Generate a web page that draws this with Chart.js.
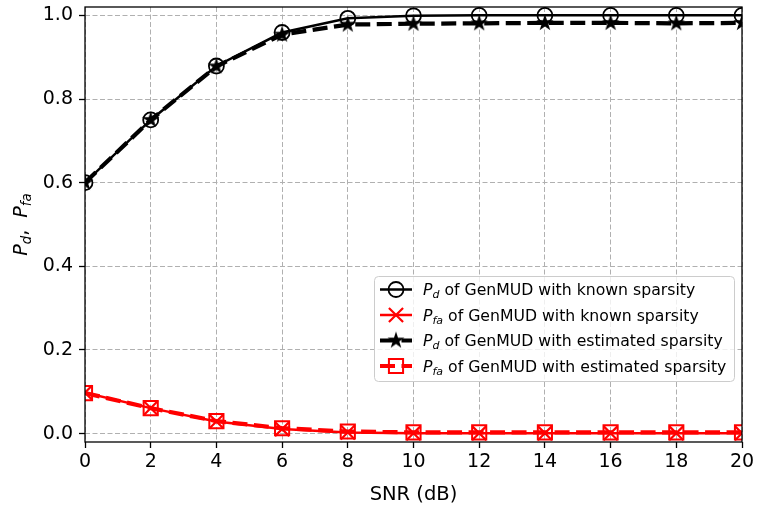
<!DOCTYPE html>
<html>
<head>
<meta charset="utf-8">
<script src="https://cdn.jsdelivr.net/npm/chart.js@4.4.1/dist/chart.umd.min.js"></script>
<style>
  html, body { margin: 0; padding: 0; background: #fff; }
  #wrap { width: 757px; height: 507px; }
</style>
</head>
<body>
<div id="wrap"><canvas id="grafico" width="757" height="507"></canvas></div>
<script>
// datos
const snr = [0, 2, 4, 6, 8, 10, 12, 14, 16, 18, 20];
const pdConocida = [0.600, 0.750, 0.879, 0.959, 0.993, 0.999, 1.000, 1.000, 1.000, 1.000, 1.000];
const pfaConocida = [0.098, 0.061, 0.029, 0.011, 0.003, 0.001, 0.001, 0.001, 0.001, 0.001, 0.001];
const pdEstimada = [0.600, 0.750, 0.878, 0.954, 0.978, 0.980, 0.981, 0.982, 0.982, 0.981, 0.982];
const pfaEstimada = [0.097, 0.061, 0.030, 0.013, 0.005, 0.003, 0.003, 0.003, 0.003, 0.003, 0.003];

const xTicks = [0, 2, 4, 6, 8, 10, 12, 14, 16, 18, 20];
const yTicks = [0.0, 0.2, 0.4, 0.6, 0.8, 1.0];

const etiquetas = [
    'P_d of GenMUD with known sparsity',
    'P_fa of GenMUD with known sparsity',
    'P_d of GenMUD with estimated sparsity',
    'P_fa of GenMUD with estimated sparsity'
];

const FUENTE = '"DejaVu Sans", sans-serif';

// estrella rellena como en matplotlib
function crearEstrella(rExt) {
    const c = document.createElement('canvas');
    const s = Math.ceil(rExt * 2 + 2);
    c.width = s; c.height = s;
    const g = c.getContext('2d');
    const rInt = rExt * 0.382;
    g.beginPath();
    for (let i = 0; i < 10; i++) {
        const r = i % 2 === 0 ? rExt : rInt;
        const a = -Math.PI / 2 + i * Math.PI / 5;
        const px = s / 2 + r * Math.cos(a), py = s / 2 + r * Math.sin(a);
        if (i === 0) g.moveTo(px, py); else g.lineTo(px, py);
    }
    g.closePath();
    g.fillStyle = '#000';
    g.fill();
    return c;
}
const estrella = crearEstrella(9);

function puntos(xs, ys) {
    return xs.map((x, i) => ({ x: x, y: ys[i] }));
}

// texto con P cursiva y subindice
function textoMath(ctx, x, y, sub, resto, size) {
    ctx.textBaseline = 'alphabetic';
    ctx.textAlign = 'left';
    ctx.font = 'italic ' + size + 'px ' + FUENTE;
    ctx.fillText('P', x, y);
    x += ctx.measureText('P').width;
    const ss = size * 0.7;
    ctx.font = 'italic ' + ss + 'px ' + FUENTE;
    ctx.fillText(sub, x, y + size * 0.22);
    x += ctx.measureText(sub).width;
    ctx.font = size + 'px ' + FUENTE;
    ctx.fillText(resto, x, y);
    x += ctx.measureText(resto).width;
    return x;
}

const pluginMarco = {
    id: 'marco',
    afterDatasetsDraw(chart) {
        const ctx = chart.ctx;
        const a = chart.chartArea;
        ctx.save();
        ctx.strokeStyle = '#000';
        ctx.lineWidth = 1.3;
        ctx.setLineDash([]);
        ctx.strokeRect(a.left, a.top, a.right - a.left, a.bottom - a.top);
        ctx.restore();

        // leyenda
        ctx.save();
        const lx = 374.5, ly = 276.5, lw = 360, lh = 105;
        ctx.beginPath();
        ctx.roundRect(lx, ly, lw, lh, 4);
        ctx.fillStyle = 'rgba(255,255,255,0.8)';
        ctx.fill();
        ctx.strokeStyle = '#cccccc';
        ctx.lineWidth = 1;
        ctx.stroke();
        const filas = [289.5, 315, 340.5, 366];
        chart.data.datasets.forEach((ds, i) => {
            const yy = filas[i];
            ctx.save();
            ctx.strokeStyle = ds.borderColor;
            ctx.lineWidth = ds.borderWidth;
            ctx.setLineDash(ds.borderDash || []);
            ctx.beginPath();
            ctx.moveTo(380, yy);
            ctx.lineTo(412, yy);
            ctx.stroke();
            ctx.setLineDash([]);
            ctx.strokeStyle = ds.pointBorderColor;
            ctx.fillStyle = ds.pointBackgroundColor;
            ctx.lineWidth = ds.pointBorderWidth;
            Chart.helpers.drawPoint(ctx, {
                pointStyle: ds.pointStyle, radius: ds.pointRadius,
                rotation: 0, borderWidth: ds.pointBorderWidth
            }, 396, yy);
            ctx.restore();
            const partes = etiquetas[i].split(' ');
            const sub = partes[0].split('_')[1];
            ctx.fillStyle = '#000';
            textoMath(ctx, 423, yy + 5.5, sub, ' ' + partes.slice(1).join(' '), 15.7);
        });
        ctx.restore();
    },
    afterDraw(chart) {
        const ctx = chart.ctx;
        const a = chart.chartArea;
        ctx.save();
        ctx.fillStyle = '#000';
        ctx.font = '19.5px ' + FUENTE;
        ctx.textAlign = 'center';
        ctx.textBaseline = 'middle';
        ctx.fillText('SNR (dB)', (a.left + a.right) / 2, 495);

        // titulo del eje y, girado
        ctx.translate(27, (a.top + a.bottom) / 2);
        ctx.rotate(-Math.PI / 2);
        const size = 19;
        const medir = (t, f) => { ctx.font = f; return ctx.measureText(t).width; };
        const total = medir('P', 'italic ' + size + 'px ' + FUENTE) * 2 +
            medir('d', 'italic ' + size * 0.7 + 'px ' + FUENTE) +
            medir('fa', 'italic ' + size * 0.7 + 'px ' + FUENTE) + medir(',  ', size + 'px ' + FUENTE);
        let x = -total / 2;
        x = textoMath(ctx, x, 0, 'd', ',  ', size);
        textoMath(ctx, x, 0, 'fa', '', size);
        ctx.restore();
    }
};

const ctx = document.getElementById('grafico').getContext('2d');
const grafico = new Chart(ctx, {
    type: 'line',
    data: {
        datasets: [
            {
                label: etiquetas[0],
                data: puntos(snr, pdConocida),
                borderColor: '#000000', borderWidth: 2.5,
                pointStyle: 'circle', pointRadius: 7.5, pointBorderWidth: 1.8,
                pointBorderColor: '#000000', pointBackgroundColor: 'rgba(0,0,0,0)',
                order: 4
            },
            {
                label: etiquetas[1],
                data: puntos(snr, pfaConocida),
                borderColor: '#ff0000', borderWidth: 2.5,
                pointStyle: 'crossRot', pointRadius: 10, pointBorderWidth: 2.2,
                pointBorderColor: '#ff0000', pointBackgroundColor: '#ff0000',
                order: 3
            },
            {
                label: etiquetas[2],
                data: puntos(snr, pdEstimada),
                borderColor: '#000000', borderWidth: 4.2, borderDash: [15, 6.5],
                pointStyle: estrella, pointRadius: 9, pointBorderWidth: 0,
                pointBorderColor: '#000000', pointBackgroundColor: '#000000',
                order: 2
            },
            {
                label: etiquetas[3],
                data: puntos(snr, pfaEstimada),
                borderColor: '#ff0000', borderWidth: 4.2, borderDash: [15, 6.5],
                pointStyle: 'rect', pointRadius: 10, pointBorderWidth: 2,
                pointBorderColor: '#ff0000', pointBackgroundColor: 'rgba(0,0,0,0)',
                order: 1
            }
        ]
    },
    options: {
        responsive: false,
        animation: false,
        devicePixelRatio: 1,
        clip: 0,
        layout: { autoPadding: false, padding: { top: 7, right: 15, left: 0, bottom: 0 } },
        plugins: {
            legend: { display: false },
            tooltip: { enabled: false }
        },
        elements: { line: { tension: 0, fill: false } },
        scales: {
            x: {
                type: 'linear', min: 0, max: 20,
                afterFit: (s) => { s.height = 65; s.paddingLeft = 0; s.paddingRight = 0; },
                afterBuildTicks: (s) => { s.ticks = xTicks.map(v => ({ value: v })); },
                grid: { color: '#b0b0b0', lineWidth: 1, tickLength: 6, tickColor: '#000', tickWidth: 1.3 },
                border: { display: false, dash: [5, 2.5] },
                ticks: { color: '#000', font: { family: FUENTE, size: 19 }, padding: 3, maxRotation: 0,
                    callback: (v) => String(v) }
            },
            y: {
                type: 'linear', min: -0.02, max: 1.02,
                afterFit: (s) => { s.width = 85; s.paddingTop = 0; s.paddingBottom = 0; },
                afterBuildTicks: (s) => { s.ticks = yTicks.map(v => ({ value: v })); },
                grid: { color: '#b0b0b0', lineWidth: 1, tickLength: 6, tickColor: '#000', tickWidth: 1.3 },
                border: { display: false, dash: [5, 2.5] },
                ticks: { color: '#000', font: { family: FUENTE, size: 19 }, padding: 6,
                    callback: (v) => Number(v).toFixed(1) }
            }
        }
    },
    plugins: [pluginMarco]
});
</script>
</body>
</html>
